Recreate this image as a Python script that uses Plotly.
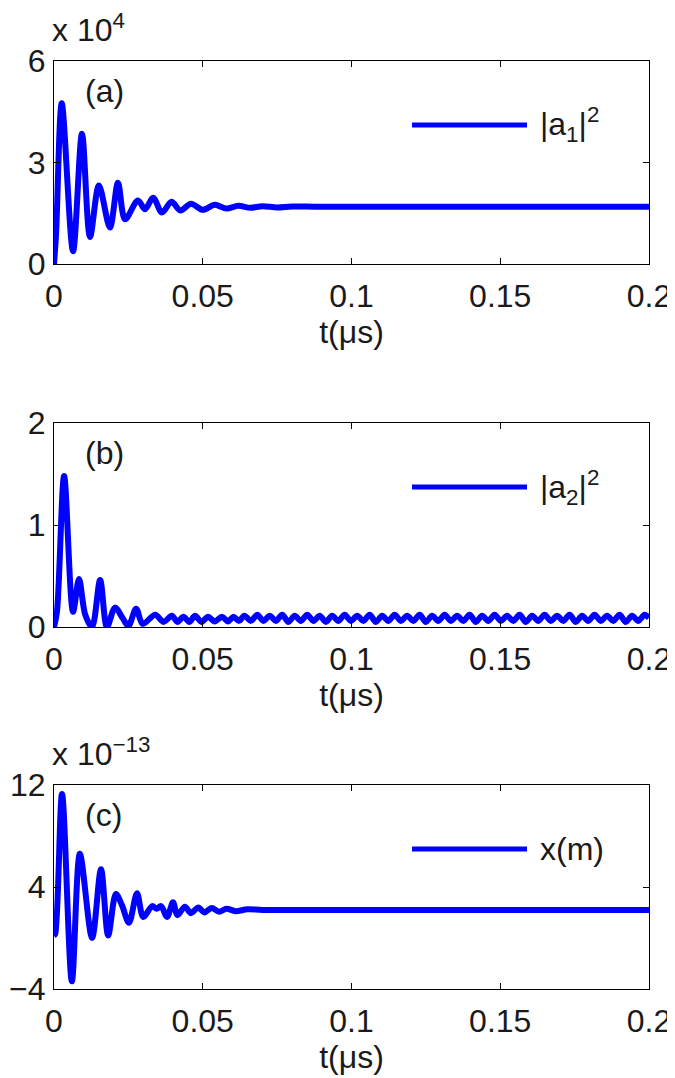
import plotly.graph_objects as go

# ---------------- data ----------------
# panel (a): |a1|^2, in units of 1e4
t_a = [0, 0.0007, 0.0026, 0.0064, 0.0094, 0.0121, 0.0151, 0.0188, 0.0215, 0.0239,
       0.0282, 0.0306, 0.0333, 0.0363, 0.0395, 0.0425, 0.0460, 0.0500, 0.0540,
       0.0580, 0.0620, 0.0660, 0.0700, 0.0750, 0.0800, 0.0900, 0.2000]
y_a = [0, 0.9, 4.75, 0.38, 3.85, 0.8, 2.32, 1.08, 2.4, 1.32,
       1.88, 1.62, 1.96, 1.52, 1.84, 1.58, 1.78, 1.6, 1.75,
       1.64, 1.72, 1.66, 1.71, 1.67, 1.70, 1.69, 1.69]

# panel (b): |a2|^2
t_b = [0, 0.0010, 0.0034, 0.0064, 0.0084, 0.0105, 0.0128, 0.0155, 0.0178,
       0.0205, 0.0230, 0.0250, 0.0276, 0.0298, 0.0340, 0.0368, 0.0396, 0.0415,
       0.0435, 0.0455, 0.0474, 0.0496, 0.0518, 0.0540, 0.0565, 0.0585, 0.0603,
       0.0622, 0.0640, 0.0662, 0.0683, 0.0704, 0.0725, 0.0746, 0.0767, 0.0788,
       0.0809, 0.0830, 0.0851, 0.0872, 0.0893, 0.0914, 0.0935, 0.0956, 0.0977,
       0.0998, 0.1019, 0.1040, 0.1061, 0.1082, 0.1103, 0.1124, 0.1145, 0.1166,
       0.1187, 0.1208, 0.1229, 0.1250, 0.1271, 0.1292, 0.1313, 0.1334, 0.1355,
       0.1376, 0.1397, 0.1418, 0.1439, 0.1460, 0.1481, 0.1502, 0.1523, 0.1544,
       0.1565, 0.1586, 0.1607, 0.1628, 0.1649, 0.1670, 0.1691, 0.1712, 0.1733,
       0.1754, 0.1775, 0.1796, 0.1817, 0.1838, 0.1859, 0.1880, 0.1901, 0.1922,
       0.1943, 0.1964, 0.1985, 0.2000]
y_b = [0, 0.15, 1.48, 0.15, 0.47, 0.12, 0.0, 0.46, 0.0,
       0.19, 0.09, 0.01, 0.18, 0.03, 0.12, 0.05, 0.11, 0.05,
       0.10, 0.05, 0.11, 0.05, 0.10, 0.055, 0.10, 0.055, 0.10,
       0.06, 0.11, 0.06, 0.12, 0.06, 0.11, 0.06, 0.12, 0.05,
       0.11, 0.06, 0.12, 0.06, 0.11, 0.05, 0.11, 0.06, 0.12,
       0.06, 0.11, 0.06, 0.12, 0.05, 0.11, 0.06, 0.12, 0.06,
       0.11, 0.06, 0.12, 0.05, 0.11, 0.06, 0.12, 0.06, 0.11,
       0.06, 0.12, 0.05, 0.11, 0.06, 0.12, 0.06, 0.11, 0.06,
       0.12, 0.05, 0.11, 0.06, 0.12, 0.06, 0.11, 0.06, 0.12,
       0.05, 0.11, 0.06, 0.12, 0.06, 0.11, 0.06, 0.12, 0.05,
       0.11, 0.06, 0.12, 0.09]

# panel (c): x(m), in units of 1e-13
t_c = [0, 0.0004, 0.0027, 0.0060, 0.0087, 0.0128, 0.0158, 0.0182, 0.0208,
       0.0228, 0.0252, 0.0279, 0.0300, 0.0330, 0.0345, 0.0360, 0.0380, 0.0400,
       0.0415, 0.0440, 0.0460, 0.0485, 0.0505, 0.0530, 0.0555, 0.0580, 0.0610,
       0.0650, 0.0700, 0.0800, 0.2000]
y_c = [0.2, 0.3, 11.3, -3.4, 6.6, 0.0, 5.4, 0.2, 3.45,
       2.6, 1.2, 3.5, 1.65, 2.5, 2.3, 2.5, 1.65, 2.8,
       1.8, 2.45, 1.95, 2.4, 2.0, 2.35, 2.05, 2.3, 2.1,
       2.25, 2.2, 2.2, 2.2]

x_ticks = [0, 0.05, 0.1, 0.15, 0.2]
x_ticktext = ["0", "0.05", "0.1", "0.15", "0.2"]
ya_ticks = [0, 3, 6]
yb_ticks = [0, 1, 2]
yc_ticks = [-4, 4, 12]
yc_ticktext = ["\u22124", "4", "12"]

legend_a = "|a<sub>1</sub>|<sup>2</sup>"
legend_b = "|a<sub>2</sub>|<sup>2</sup>"
legend_c = "x(m)"
xlabel = "t(\u03bcs)"

# ---------------- figure ----------------
PAGE_W, PAGE_H = 675, 1078
OFF = 8                      # default page body margin
W, H = PAGE_W - OFF, PAGE_H - OFF
FONT = "Liberation Sans, Arial, Helvetica, sans-serif"
FS = 32
TXT = "#1a1a1a"
BLUE = "#0000ff"

def px_x(p):
    return (p - OFF) / W

def px_y(p):
    return 1 - (p - OFF) / H

x_dom = [px_x(54), px_x(649)]
panels = [
    dict(t=t_a, y=y_a, top=61, bot=264, rng=[0, 6], tv=ya_ticks, tt=[str(v) for v in ya_ticks],
         label="(a)", leg=legend_a, scale="x 10<sup>4</sup>"),
    dict(t=t_b, y=y_b, top=423, bot=627, rng=[0, 2], tv=yb_ticks, tt=[str(v) for v in yb_ticks],
         label="(b)", leg=legend_b, scale=None),
    dict(t=t_c, y=y_c, top=785, bot=989, rng=[-4, 12], tv=yc_ticks, tt=yc_ticktext,
         label="(c)", leg=legend_c, scale="x 10<sup>\u221213</sup>"),
]

fig = go.Figure()
shapes = []
annotations = []
for i, p in enumerate(panels, start=1):
    xa = "x" if i == 1 else f"x{i}"
    ya = "y" if i == 1 else f"y{i}"
    fig.add_trace(go.Scatter(
        x=p["t"], y=p["y"], mode="lines",
        line=dict(color=BLUE, width=6, shape="spline", smoothing=0.9),
        xaxis=xa, yaxis=ya, showlegend=False, hoverinfo="skip"))
    axis_common = dict(showline=True, linecolor="black", linewidth=1, mirror="ticks",
                       ticks="inside", ticklen=6, tickcolor="black", tickwidth=1,
                       showgrid=False, zeroline=False, automargin=False,
                       tickfont=dict(family=FONT, size=FS, color=TXT))
    xkey = "xaxis" if i == 1 else f"xaxis{i}"
    ykey = "yaxis" if i == 1 else f"yaxis{i}"
    fig.update_layout(**{
        xkey: dict(domain=x_dom, range=[0, 0.2], tickvals=x_ticks, ticktext=x_ticktext,
                   anchor=ya, ticklabelstandoff=4,
                   title=dict(text=xlabel, standoff=0,
                              font=dict(family=FONT, size=FS, color=TXT)),
                   **axis_common),
        ykey: dict(domain=[px_y(p["bot"]), px_y(p["top"])], range=p["rng"],
                   tickvals=p["tv"], ticktext=p["tt"], anchor=xa,
                   ticklabelstandoff=1, **axis_common),
    })
    # legend sample line and label
    ly = p["top"] + 64
    shapes.append(dict(type="line", xref="paper", yref="paper",
                       x0=px_x(412), x1=px_x(527), y0=px_y(ly), y1=px_y(ly),
                       line=dict(color=BLUE, width=5)))
    annotations.append(dict(text=p["leg"], xref="paper", yref="paper",
                            x=px_x(538), y=px_y(ly), xanchor="left", yanchor="middle",
                            showarrow=False, font=dict(family=FONT, size=FS, color=TXT)))
    # panel label
    annotations.append(dict(text=p["label"], xref="paper", yref="paper",
                            x=px_x(83), y=px_y(p["top"] + 30), xanchor="left", yanchor="middle",
                            showarrow=False, font=dict(family=FONT, size=FS, color=TXT)))
    if p["scale"]:
        annotations.append(dict(text=p["scale"], xref="paper", yref="paper",
                                x=px_x(50), y=px_y(p["top"] - 33), xanchor="left", yanchor="middle",
                                showarrow=False, font=dict(family=FONT, size=FS, color=TXT)))

fig.update_layout(width=W, height=H, margin=dict(l=0, r=0, t=0, b=0, autoexpand=False),
                  template="none",
                  paper_bgcolor="white", plot_bgcolor="white",
                  shapes=shapes, annotations=annotations, showlegend=False)

fig.write_html("out.html")
